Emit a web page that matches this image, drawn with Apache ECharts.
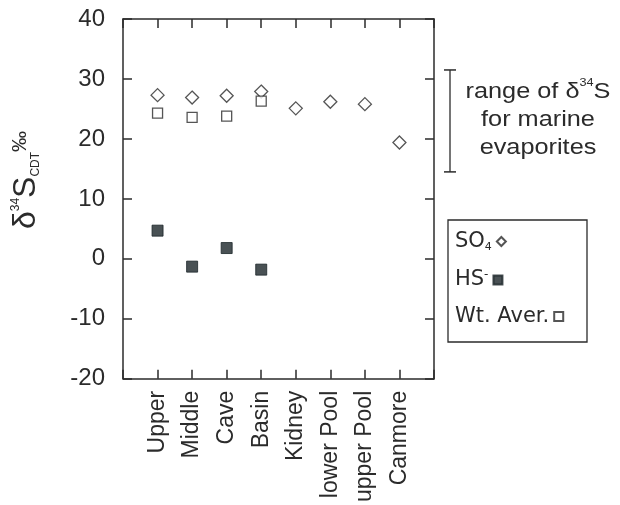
<!DOCTYPE html>
<html>
<head>
<meta charset="utf-8">
<title>d34S</title>
<script src="https://cdn.jsdelivr.net/npm/echarts@6/dist/echarts.min.js"></script>
<style>
  html, body {margin:0;padding:0;background:#fff;}
  #main {width:620px;height:505px;}
</style>
</head>
<body>
<div id="main"></div>
<script>
// sites along x (positions 1..8)
var categories = ['Upper', 'Middle', 'Cave', 'Basin', 'Kidney', 'lower Pool', 'upper Pool', 'Canmore'];
// sulphate d34S
var so4 = [27.3, 26.9, 27.2, 27.9, 25.1, 26.2, 25.8, 19.4];
// sulphide d34S (first four sites)
var hs = [4.7, -1.3, 1.8, -1.8];
// weighted average (first four sites)
var wtAver = [24.3, 23.6, 23.8, 26.3];
// marine evaporite range
var evapRange = [14.5, 31.5];
var yMin = -20, yMax = 40, yStep = 10;

var font = 'Liberation Sans, Arial, sans-serif';
var wideFont = 'DejaVu Sans, Liberation Sans, sans-serif';
var ink = '#2b2b2b';

function toPoints(arr) {
  return arr.map(function (v, i) { return [i + 1, v]; });
}

function axisStyle(pos, showLabel) {
  return {
    type: 'value',
    position: pos,
    axisLine: {show: true, onZero: false, lineStyle: {color: ink, width: 1.5}},
    axisTick: {show: true, inside: true, length: 9, lineStyle: {color: ink, width: 1.5}},
    splitLine: {show: false},
    axisLabel: {show: showLabel}
  };
}

var legendText = {
  color: ink,
  fontFamily: wideFont,
  rich: {
    n: {fontSize: 21, fontFamily: wideFont, color: ink},
    sub: {fontSize: 11, fontFamily: wideFont, color: ink, verticalAlign: 'bottom', padding: [12, 0, 0, 0]},
    sup: {fontSize: 12, fontFamily: wideFont, color: ink, verticalAlign: 'top', padding: [0, 0, 10, 0]}
  }
};

function legendFor(name, top) {
  return {
    left: 455,
    top: top,
    align: 'right',
    padding: 0,
    itemWidth: 9,
    itemHeight: 9,
    data: [name],
    formatter: function (n) {
      if (n === 'SO4') return '{n|SO}{sub|4}';
      if (n === 'HS-') return '{n|HS}{sup|-}';
      return '{n|' + n + '}';
    },
    textStyle: legendText
  };
}

var chart = echarts.init(document.getElementById('main'));

var xBottom = axisStyle('bottom', true);
xBottom.min = 0; xBottom.max = 9; xBottom.interval = 1;
xBottom.axisLabel = {
  rotate: 90,
  margin: 12,
  fontSize: 23,
  fontFamily: font,
  color: ink,
  formatter: function (v) {
    return (v >= 1 && v <= categories.length) ? categories[v - 1] : '';
  }
};
var xTop = axisStyle('top', false);
xTop.min = 0; xTop.max = 9; xTop.interval = 1;

var yLeft = axisStyle('left', true);
yLeft.min = yMin; yLeft.max = yMax; yLeft.interval = yStep;
yLeft.axisLabel = {margin: 18, fontSize: 24, fontFamily: font, color: ink};
var yRight = axisStyle('right', false);
yRight.min = yMin; yRight.max = yMax; yRight.interval = yStep;

var option = {
  animation: false,
  backgroundColor: '#fff',
  grid: {left: 123, top: 19, right: 186, bottom: 126},
  legend: [legendFor('SO4', 231), legendFor('HS-', 269), legendFor('Wt. Aver.', 306)],
  xAxis: [xBottom, xTop],
  yAxis: [yLeft, yRight],
  series: [{
    name: 'SO4',
    type: 'scatter',
    symbol: 'diamond',
    symbolSize: [13, 13],
    itemStyle: {color: '#fff', borderColor: ink, borderWidth: 1.3},
    data: toPoints(so4)
  }, {
    name: 'Wt. Aver.',
    type: 'scatter',
    symbol: 'rect',
    symbolSize: 10,
    itemStyle: {color: '#fff', borderColor: ink, borderWidth: 1.3},
    data: toPoints(wtAver)
  }, {
    name: 'HS-',
    type: 'scatter',
    symbol: 'rect',
    symbolSize: 11,
    itemStyle: {color: '#1c2529', borderColor: '#1c2529', borderWidth: 1},
    data: toPoints(hs)
  }]
};

chart.setOption(option);

// annotations placed from axis coordinates
var yHi = chart.convertToPixel({yAxisIndex: 0}, evapRange[1]);
var yLo = chart.convertToPixel({yAxisIndex: 0}, evapRange[0]);
var yMid = (yHi + yLo) / 2;
var barX = 450;

chart.setOption({
  graphic: [{
    type: 'line',
    shape: {x1: barX, y1: yHi, x2: barX, y2: yLo},
    style: {stroke: ink, lineWidth: 1.3}
  }, {
    type: 'line',
    shape: {x1: barX - 6, y1: yHi, x2: barX + 6, y2: yHi},
    style: {stroke: ink, lineWidth: 1.5}
  }, {
    type: 'line',
    shape: {x1: barX - 6, y1: yLo, x2: barX + 6, y2: yLo},
    style: {stroke: ink, lineWidth: 1.5}
  }, {
    type: 'text',
    x: 538,
    y: yMid - 1,
    scaleX: 1.15,
    style: {
      text: '{t|range of δ}{s|34}{t|S}\n{t|for marine}\n{t|evaporites}',
      align: 'center',
      verticalAlign: 'middle',
      fill: ink,
      rich: {
        t: {fontSize: 22, fontFamily: font, fill: ink, lineHeight: 28},
        s: {fontSize: 11, fontFamily: font, fill: ink, verticalAlign: 'top', padding: [0, 0, 10, 0], lineHeight: 28}
      }
    }
  }, {
    type: 'rect',
    shape: {x: 448, y: 220, width: 139, height: 122},
    style: {fill: 'none', stroke: ink, lineWidth: 1.3}
  }, {
    type: 'text',
    x: 26,
    y: 180,
    rotation: Math.PI / 2,
    style: {
      text: '{d|δ}{sup|34}{d|S}{sub|CDT}{pm|‰}',
      align: 'center',
      verticalAlign: 'middle',
      fill: ink,
      rich: {
        d: {fontSize: 32, fontFamily: font, fill: ink},
        sup: {fontSize: 12, fontFamily: font, fill: ink, verticalAlign: 'top', padding: [0, 0, 18, 0]},
        sub: {fontSize: 12, fontFamily: font, fill: ink, verticalAlign: 'bottom', padding: [16, 0, 0, 0]},
        pm: {fontSize: 21, fontFamily: font, fill: ink, verticalAlign: 'top', padding: [0, 0, 8, 0]}
      }
    }
  }]
});
</script>
</body>
</html>
